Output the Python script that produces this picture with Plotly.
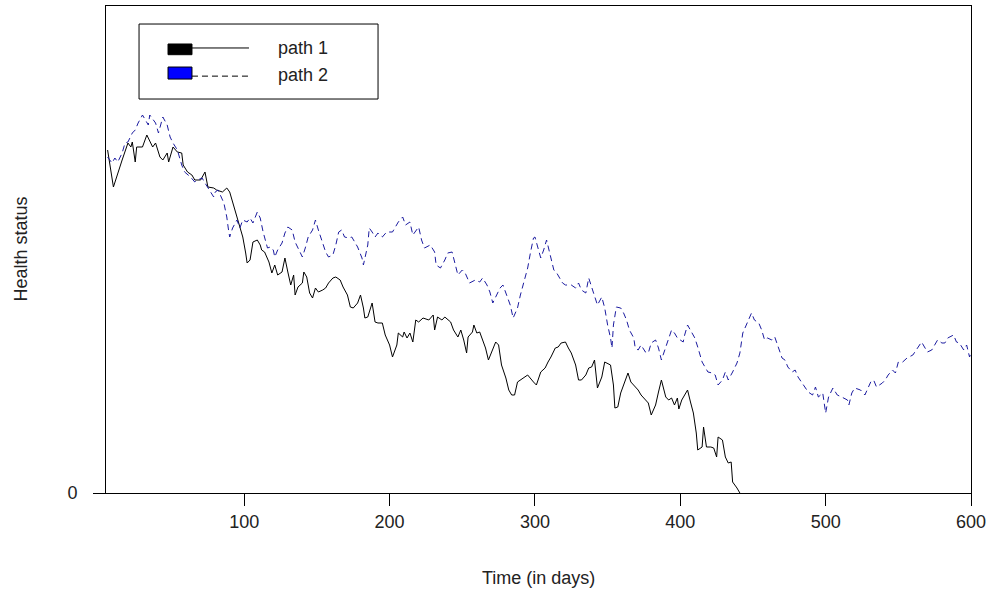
import plotly.graph_objects as go

# ---- data (y in arbitrary health units, 0 = death) ----
path1_days = [6, 10, 16, 20, 22, 23, 25, 26, 30, 33, 37, 39, 42, 44, 47, 48, 51, 54, 57, 58,
              61, 64, 66, 70, 73, 75, 79, 81, 85, 88, 90, 94, 96, 99, 101, 102, 104, 106, 109, 111,
              112, 114, 117, 119, 121, 123, 126, 128, 130, 132, 134, 135, 137, 140, 141, 143, 145, 147, 149, 151,
              154, 156, 158, 161, 163, 166, 168, 171, 173, 175, 178, 180, 182, 183, 185, 188, 190, 192, 195, 197,
              200, 202, 205, 206, 209, 210, 212, 214, 216, 218, 220, 223, 227, 230, 231, 233, 236, 238, 242, 244,
              247, 249, 251, 253, 254, 257, 258, 260, 262, 264, 266, 268, 271, 273, 275, 277, 280, 282, 284, 286,
              288, 292, 295, 299, 301, 304, 307, 309, 311, 314, 316, 318, 321, 323, 325, 328, 330, 332, 335, 337,
              339, 341, 343, 346, 348, 352, 354, 355, 357, 359, 362, 364, 366, 369, 371, 373, 376, 378, 380, 383,
              385, 387, 390, 392, 394, 396, 398, 399, 401, 403, 405, 407, 409, 411, 412, 415, 416, 418, 421, 423,
              425, 426, 429, 431, 433, 435, 436, 439, 441]
path1_vals = [343, 306, 333, 350, 346, 351, 331, 346, 346, 358, 346, 350, 336, 333, 340, 331, 346, 341, 340, 328,
              321, 318, 313, 313, 321, 306, 305, 303, 301, 305, 301, 280, 270, 256, 240, 230, 233, 251, 253, 248,
              243, 241, 231, 220, 228, 218, 221, 235, 221, 208, 218, 198, 206, 210, 221, 216, 200, 195, 205, 201,
              203, 205, 210, 215, 216, 213, 206, 198, 186, 185, 190, 198, 185, 175, 176, 190, 171, 170, 170, 158,
              148, 136, 148, 160, 156, 161, 155, 160, 151, 173, 171, 175, 173, 178, 163, 176, 173, 176, 171, 163,
              156, 163, 153, 140, 156, 161, 168, 160, 161, 153, 145, 133, 143, 151, 148, 128, 115, 103, 98, 98,
              111, 115, 118, 111, 108, 121, 125, 131, 136, 145, 146, 150, 151, 145, 140, 128, 113, 113, 118, 125,
              126, 133, 105, 116, 131, 128, 108, 85, 86, 100, 111, 120, 111, 106, 103, 98, 93, 90, 78, 88,
              101, 113, 96, 93, 95, 88, 95, 84, 93, 98, 103, 91, 80, 60, 43, 46, 66, 46, 46, 45,
              36, 56, 53, 36, 30, 31, 11, 5, 0]

path2_days = [6, 9, 11, 13, 16, 18, 20, 23, 25, 27, 30, 32, 34, 35, 39, 41, 44, 47, 49, 51,
              54, 57, 59, 63, 66, 68, 71, 73, 75, 79, 80, 82, 86, 88, 89, 90, 92, 95, 97, 99,
              102, 104, 106, 109, 111, 113, 116, 118, 120, 121, 123, 126, 128, 130, 133, 135, 137, 140, 142, 144,
              147, 149, 151, 154, 156, 158, 161, 163, 165, 167, 169, 172, 174, 176, 178, 181, 182, 185, 186, 188,
              190, 192, 195, 198, 202, 206, 209, 211, 214, 216, 220, 222, 224, 228, 231, 232, 235, 238, 240, 243,
              245, 247, 250, 252, 255, 259, 262, 264, 267, 269, 271, 274, 276, 278, 281, 283, 285, 288, 290, 292,
              295, 297, 299, 300, 302, 304, 306, 308, 310, 313, 315, 317, 319, 321, 325, 328, 330, 332, 335, 337,
              339, 341, 343, 346, 348, 350, 352, 353, 354, 356, 359, 361, 363, 365, 368, 369, 371, 373, 376, 378,
              380, 383, 385, 387, 390, 392, 394, 396, 398, 402, 403, 405, 408, 410, 412, 415, 417, 419, 422, 424,
              426, 429, 431, 433, 436, 439, 441, 443, 446, 448, 449, 451, 454, 456, 458, 460, 463, 465, 467, 470,
              472, 474, 477, 479, 481, 484, 486, 488, 491, 493, 495, 498, 500, 502, 505, 508, 511, 515, 516, 518,
              520, 524, 527, 531, 533, 535, 539, 541, 543, 546, 548, 550, 553, 556, 560, 563, 566, 570, 573, 577,
              580, 582, 584, 588, 590, 592, 595, 597, 599, 600]
path2_vals = [336, 330, 335, 331, 340, 350, 351, 360, 363, 370, 378, 373, 368, 378, 370, 360, 376, 368, 356, 350,
              343, 328, 321, 316, 311, 313, 315, 310, 305, 296, 301, 303, 290, 276, 265, 256, 265, 273, 265, 273,
              271, 275, 270, 281, 275, 261, 245, 246, 243, 236, 243, 250, 260, 266, 263, 251, 245, 236, 245, 256,
              263, 273, 263, 251, 241, 236, 238, 248, 261, 263, 256, 255, 256, 251, 246, 235, 228, 248, 265, 261,
              256, 260, 256, 261, 261, 271, 276, 268, 271, 258, 266, 253, 245, 248, 241, 228, 225, 233, 240, 241,
              230, 218, 223, 220, 210, 213, 211, 215, 208, 201, 190, 200, 205, 208, 195, 188, 175, 185, 198, 210,
              225, 241, 255, 256, 245, 235, 243, 253, 241, 223, 220, 215, 210, 208, 208, 205, 210, 203, 200, 215,
              206, 198, 188, 196, 185, 168, 155, 145, 168, 186, 185, 180, 173, 163, 155, 145, 143, 148, 141, 140,
              150, 153, 145, 133, 145, 153, 163, 160, 155, 151, 158, 168, 161, 155, 146, 131, 126, 121, 120, 118,
              108, 113, 121, 113, 121, 130, 140, 160, 170, 176, 180, 173, 170, 163, 153, 155, 153, 156, 148, 135,
              133, 126, 121, 123, 116, 110, 105, 101, 98, 106, 96, 100, 80, 96, 105, 98, 96, 93, 88, 100,
              105, 103, 98, 111, 113, 106, 110, 113, 118, 123, 120, 131, 131, 135, 138, 145, 151, 141, 143, 153,
              150, 150, 155, 158, 151, 150, 143, 148, 136, 140]

x_ticks = [100, 200, 300, 400, 500, 600]
y_ticks = [0]
x_range = [4.9, 600]
y_range = [0, 487]

series_names = ["path 1", "path 2"]
series_colors = ["#000000", "#1c1ca0"]
legend_fill = ["#000000", "#0000ff"]

FONT = "Liberation Sans, Arial, sans-serif"

fig = go.Figure()
fig.add_trace(go.Scatter(x=path1_days, y=path1_vals, mode="lines", name=series_names[0],
                         line=dict(color=series_colors[0], width=1), showlegend=False))
fig.add_trace(go.Scatter(x=path2_days, y=path2_vals, mode="lines", name=series_names[1],
                         line=dict(color=series_colors[1], width=1, dash="6px,4px"), showlegend=False))

axis_common = dict(showgrid=False, zeroline=False, showline=True, mirror=True,
                   linecolor="black", linewidth=1, ticks="outside", ticklen=12,
                   tickwidth=1, tickcolor="black",
                   tickfont=dict(family=FONT, size=18, color="#222222"))

fig.update_xaxes(range=x_range, tickvals=x_ticks, ticktext=[str(v) for v in x_ticks], **axis_common)
fig.update_yaxes(range=y_range, tickvals=y_ticks, ticktext=[str(v) for v in y_ticks],
                 ticklabelstandoff=12, **axis_common)

# ---- legend drawn in paper coordinates (R-style box with filled key + line) ----
shapes = []
annotations = []
shapes.append(dict(type="rect", xref="paper", yref="paper", x0=0.0382, x1=0.3145, y0=0.809, y1=0.963,
                   line=dict(color="black", width=1), fillcolor="white"))
rows_y = [0.9138, 0.8583]
line_y = [0.9138, 0.856]
rect_y = [(0.900, 0.922), (0.850, 0.8747)]
dashes = ["solid", "6px,4px"]
for i in range(2):
    shapes.append(dict(type="line", xref="paper", yref="paper", x0=0.0994, x1=0.1653,
                       y0=line_y[i], y1=line_y[i],
                       line=dict(color="black", width=1, dash=dashes[i])))
    shapes.append(dict(type="rect", xref="paper", yref="paper", x0=0.0717, x1=0.0994,
                       y0=rect_y[i][0], y1=rect_y[i][1],
                       line=dict(color="black", width=1), fillcolor=legend_fill[i]))
    annotations.append(dict(xref="paper", yref="paper", x=0.197, y=rows_y[i], xanchor="left",
                            yanchor="middle", text=series_names[i], showarrow=False,
                            font=dict(family=FONT, size=18, color="#222222")))

annotations.append(dict(xref="paper", yref="paper", x=0.5, y=0, yshift=-85, xanchor="center",
                        yanchor="middle", text="Time (in days)", showarrow=False,
                        font=dict(family=FONT, size=18, color="#222222")))
annotations.append(dict(xref="paper", yref="paper", x=0, y=0.5, xshift=-86, xanchor="center",
                        yanchor="middle", text="Health status", textangle=-90, showarrow=False,
                        font=dict(family=FONT, size=18, color="#222222")))

fig.update_layout(width=991, height=598, margin=dict(l=106, r=20, t=6, b=105),
                  paper_bgcolor="white", plot_bgcolor="white",
                  shapes=shapes, annotations=annotations, showlegend=False)

fig.write_html("out.html")
